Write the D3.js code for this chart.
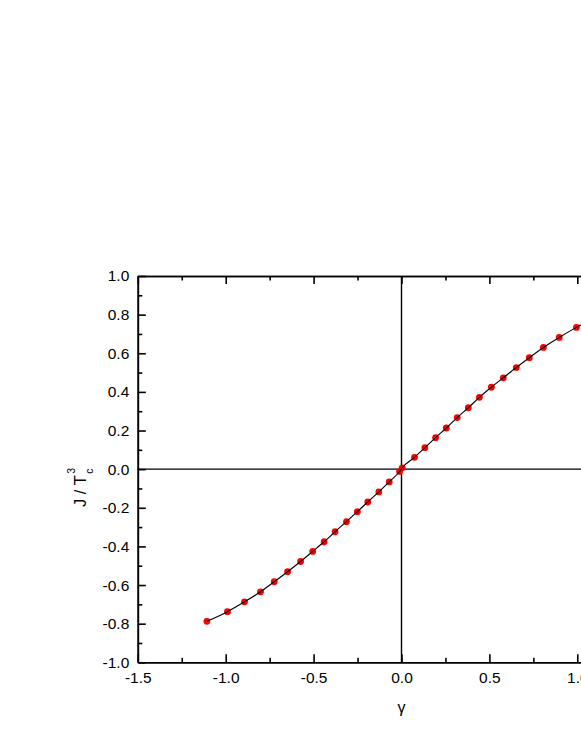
<!DOCTYPE html>
<html>
<head>
<meta charset="utf-8">
<script src="https://cdn.jsdelivr.net/npm/d3@7"></script>
<style>
html,body{margin:0;padding:0;background:#fff;overflow:hidden;}
svg{display:block;}
text{font-family:"Liberation Sans",Arial,Helvetica,sans-serif;fill:#000;}
</style>
</head>
<body>
<script>
// Data (gamma vs J / Tc^3)
const gammaValues = [-1.107,-0.990,-0.893,-0.802,-0.724,-0.648,-0.574,-0.505,-0.440,-0.378,-0.313,-0.251,-0.192,-0.129,-0.070,-0.011,
  0.004,0.074,0.133,0.194,0.255,0.317,0.380,0.443,0.511,0.579,0.653,0.727,0.807,0.897,0.995,1.100];
const jValues = [-0.788,-0.738,-0.687,-0.635,-0.583,-0.531,-0.478,-0.426,-0.376,-0.324,-0.272,-0.220,-0.170,-0.118,-0.066,-0.012,
  0.007,0.061,0.111,0.163,0.213,0.267,0.318,0.372,0.424,0.473,0.526,0.577,0.630,0.682,0.734,0.785];
const xTickValues = [-1.5,-1.0,-0.5,0.0,0.5,1.0,1.5];
const xMinorTicks = [-1.25,-0.75,-0.25,0.25,0.75,1.25];
const yTickValues = [-1.0,-0.8,-0.6,-0.4,-0.2,0.0,0.2,0.4,0.6,0.8,1.0];
const yMinorTicks = [-0.9,-0.7,-0.5,-0.3,-0.1,0.1,0.3,0.5,0.7,0.9];

const W = 581, H = 752;
const svg = d3.select("body").append("svg").attr("width", W).attr("height", H);
svg.append("rect").attr("width", W).attr("height", H).attr("fill", "#fff");

const x = d3.scaleLinear().domain([-1.5, 1.5]).range([137.8, 665.2]);
const y = d3.scaleLinear().domain([-1, 1]).range([662.3, 276]);
const fmt = d => d.toFixed(1);   // plain hyphen-minus like the reference

const majorLen = 8, minorLen = 4.5;
const FS = 15.5;

// Bottom axis
const gBottom = svg.append("g").attr("transform", `translate(0,${y(-1)})`);
gBottom.call(d3.axisBottom(x).tickValues(xTickValues).tickFormat(fmt).tickSizeInner(-majorLen).tickSizeOuter(0));
gBottom.append("g").call(d3.axisBottom(x).tickValues(xMinorTicks).tickFormat("").tickSizeInner(-minorLen).tickSizeOuter(0));
gBottom.selectAll(".tick text").attr("y", 21).attr("dy", null);
// Top axis
const gTop = svg.append("g").attr("transform", `translate(0,${y(1)})`);
gTop.call(d3.axisTop(x).tickValues(xTickValues).tickFormat("").tickSizeInner(-majorLen).tickSizeOuter(0));
gTop.append("g").call(d3.axisTop(x).tickValues(xMinorTicks).tickFormat("").tickSizeInner(-minorLen).tickSizeOuter(0));
// Left axis
const gLeft = svg.append("g").attr("transform", `translate(${x(-1.5)},0)`);
gLeft.call(d3.axisLeft(y).tickValues(yTickValues).tickFormat(fmt).tickSizeInner(-majorLen).tickSizeOuter(0).tickPadding(8.5));
gLeft.append("g").call(d3.axisLeft(y).tickValues(yMinorTicks).tickFormat("").tickSizeInner(-minorLen).tickSizeOuter(0));

svg.selectAll(".domain").attr("stroke", "#000").attr("stroke-width", 1.6);
svg.selectAll(".tick line").attr("stroke", "#000").attr("stroke-width", 1.6);
svg.selectAll(".tick text").attr("font-size", FS).attr("font-family", "Liberation Sans, Arial, sans-serif").attr("fill", "#000");

// Zero lines
svg.append("line").attr("x1", x(-1.5)).attr("x2", x(1.5)).attr("y1", y(0)).attr("y2", y(0))
  .attr("stroke", "#000").attr("stroke-width", 1.4);
svg.append("line").attr("x1", x(0)).attr("x2", x(0)).attr("y1", y(-1)).attr("y2", y(1))
  .attr("stroke", "#000").attr("stroke-width", 1.4);

const data = gammaValues.map((g, i) => ({g, j: jValues[i]}));

// Points
svg.append("g").selectAll("circle").data(data).join("circle")
  .attr("cx", d => x(d.g)).attr("cy", d => y(d.j)).attr("r", 3.4).attr("fill", "#ff0000");

// Curve
svg.append("path").datum(data)
  .attr("d", d3.line().x(d => x(d.g)).y(d => y(d.j)).curve(d3.curveMonotoneX))
  .attr("fill", "none").attr("stroke", "#000").attr("stroke-width", 1.1);

// Axis titles
svg.append("text").attr("x", x(0)).attr("y", 713).attr("text-anchor", "middle")
  .attr("font-size", 16).text("γ");

const yl = svg.append("text").attr("transform", `translate(85.5,507) rotate(-90)`)
  .attr("text-anchor", "start").attr("font-size", 16.5);
yl.append("tspan").text("J / T");
yl.append("tspan").attr("font-size", 10.5).attr("dy", -10.5).attr("dx", 1.5).text("3");
yl.append("tspan").attr("font-size", 10.5).attr("dy", 18).attr("dx", -5.8).text("c");
</script>
</body>
</html>
